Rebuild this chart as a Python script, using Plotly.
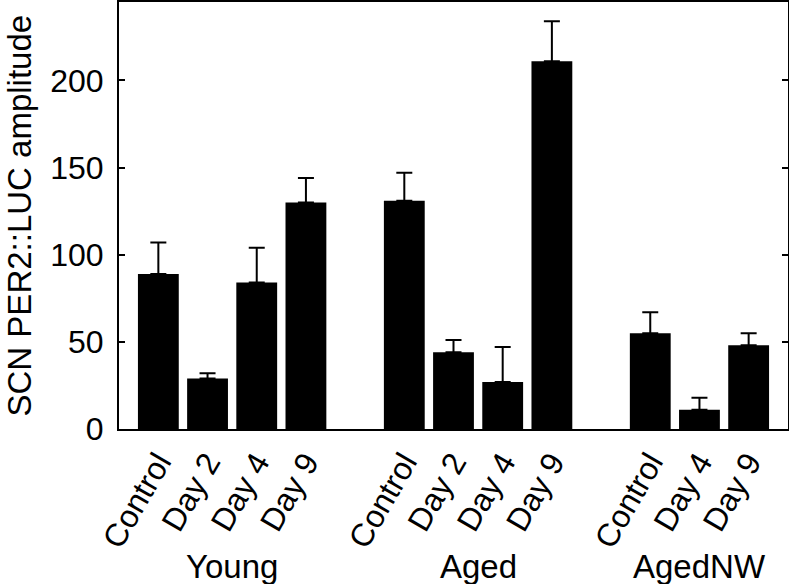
import plotly.graph_objects as go

# bar positions leave a gap between the three groups
groups = ["Young", "Aged", "AgedNW"]
labels = ["Control", "Day 2", "Day 4", "Day 9",
          "Control", "Day 2", "Day 4", "Day 9",
          "Control", "Day 4", "Day 9"]
positions = [1, 2, 3, 4, 6, 7, 8, 9, 11, 12, 13]
group_centers = [2.5, 7.5, 12]

amplitude = [89, 29, 84, 130, 131, 44, 27, 211, 55, 11, 48]
sem = [18, 3, 20, 14, 16, 7, 20, 23, 12, 7, 7]

FONT = "Liberation Sans, Arial, Helvetica, sans-serif"
FS = 32

fig = go.Figure()
fig.add_trace(go.Bar(
    x=positions, y=amplitude, width=0.83,
    marker=dict(color="black", line=dict(width=0)),
    error_y=dict(type="data", array=sem, arrayminus=[0] * len(sem),
                 symmetric=False, color="black", thickness=2, width=8),
    showlegend=False,
))

for name, cx in zip(groups, group_centers):
    fig.add_annotation(x=cx, y=-0.323, xref="x", yref="paper", text=name,
                       xanchor="center", yanchor="middle", showarrow=False,
                       font=dict(size=33, color="black", family=FONT))

# y axis title as annotation so its position is fixed
fig.add_annotation(x=-0.148, y=0.5, xref="paper", yref="paper",
                   xanchor="center", yanchor="middle",
                   text="SCN PER2::LUC amplitude", textangle=-90, showarrow=False,
                   font=dict(size=33, color="black", family=FONT))

fig.update_layout(
    width=789, height=584,
    margin=dict(l=119, r=1, t=2, b=155),
    paper_bgcolor="white", plot_bgcolor="white",
    font=dict(family=FONT, size=FS, color="black"),
    xaxis=dict(range=[0.2, 13.8], tickvals=positions, ticktext=labels,
               tickangle=-60, ticks="", showline=True, linecolor="black",
               linewidth=2, mirror=True, showgrid=False, zeroline=False,
               automargin=False),
    yaxis=dict(range=[0, 245], tickvals=[0, 50, 100, 150, 200],
               ticks="inside", ticklen=6, tickwidth=2, tickcolor="black",
               ticklabelstandoff=7,
               showline=True, linecolor="black", linewidth=2, mirror="ticks",
               showgrid=False, zeroline=False, automargin=False),
)

# page body has a default margin, drop it so the figure sits at 0,0
fig.write_html("out.html", config={"displayModeBar": False},
               post_script="document.body.style.margin='0';")
